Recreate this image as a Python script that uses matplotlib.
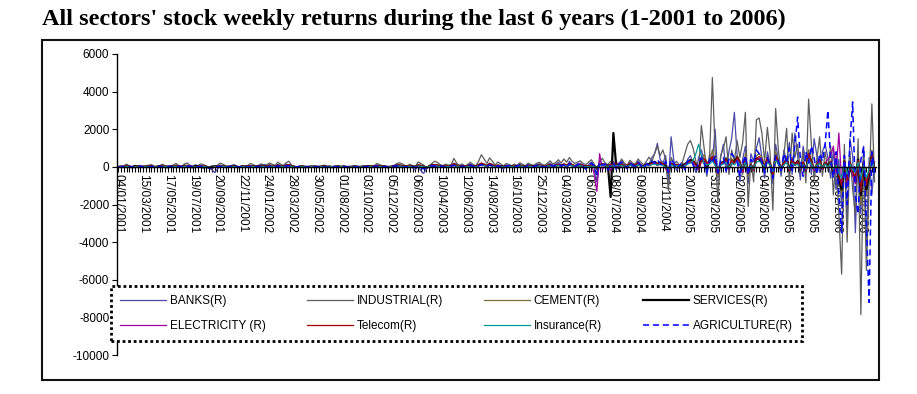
import numpy as np
import matplotlib
matplotlib.use("Agg")
import matplotlib.pyplot as plt
from matplotlib.patches import Rectangle

# ---------------- data (weekly returns, 276 weeks) ----------------
tick_labels = ["04/01/2001", "15/03/2001", "17/05/2001", "19/07/2001", "20/09/2001",
               "22/11/2001", "24/01/2002", "28/03/2002", "30/05/2002", "01/08/2002",
               "03/10/2002", "05/12/2002", "06/02/2003", "10/04/2003", "12/06/2003",
               "14/08/2003", "16/10/2003", "25/12/2003", "04/03/2004", "06/05/2004",
               "08/07/2004", "09/09/2004", "11/11/2004", "20/01/2005", "31/03/2005",
               "02/06/2005", "04/08/2005", "06/10/2005", "08/12/2005", "09/02/2006",
               "13/04/2006"]

banks = [
    -30, 20, 60, -10, 40, 10, -50, 30, 80, 20, -20, 10,
    40, -30, 20, 50, -10, 30, 70, 20, -40, 10, 60, 30,
    90, 40, -20, 30, 110, 60, 10, -40, 20, -80, -150, -300,
    -120, 40, 80, 20, -30, 60, 120, 50, 10, -20, 40, 30,
    60, 20, -10, 40, 90, 130, 60, 20, -30, 50, 110, 40,
    20, 150, 80, 30, -20, 10, 40, -10, 30, 20, -30, 10,
    20, 40, -20, 10, 30, -10, 20, 40, 10, -20, 30, 20,
    10, -30, 20, 40, 10, 30, -20, 20, 60, 30, 90, 40,
    -20, 10, 40, 20, 60, 120, 40, -30, 20, 50, 30, -60,
    -150, 20, -200, -350, -100, 60, 150, 80, 20, 110, 40, -20,
    30, 80, 200, 120, 40, 60, -40, 90, 150, 60, -80, 120,
    180, 90, 40, 200, 120, -60, 80, 40, -120, 60, 100, 30,
    -50, 80, 130, 40, -40, 150, 90, 20, 120, 160, 40, -30,
    110, 200, 60, 140, 250, 80, 150, -100, 300, 120, 40, 180,
    200, 60, -150, 120, 250, 100, -800, 350, 120, 200, -200, 150,
    300, -150, 200, 350, 100, -100, 250, 150, 50, 300, 100, -50,
    200, 150, 500, 700, 1250, 400, 200, 600, -800, 1600, 300, -200,
    100, 250, -100, 400, 600, 200, -300, 500, 900, 300, -500, 700,
    300, 2000, -600, 500, 1200, -300, 800, 1500, 2900, 600, -800, 400,
    1100, -900, 700, 300, 1000, 1550, 500, -600, 800, 200, -900, 1200,
    400, -500, 900, 300, 1300, -400, 1800, 600, -700, 1100, 300, 900,
    -400, 1500, 600, -300, 800, 1200, 500, -600, 900, -1200, 400, -2200,
    600, -2800, 1500, 600, -3500, 800, -2500, 1100, -4000, 500, -1500, 300,
]

industrial = [
    20, -40, 60, 150, 30, -20, 80, 40, -30, 50, 10, 90,
    120, 40, -20, 60, 140, 70, 30, -10, 110, 180, 60, 20,
    150, 210, 90, 40, -30, 70, 160, 120, 50, -60, -120, 30,
    80, 200, 140, 60, -20, 40, 90, 20, -30, 50, 30, 70,
    180, 120, 40, 90, 160, 70, 110, 210, 130, 80, 250, 140,
    70, 220, 300, 90, 40, -20, 30, 60, 20, -40, 10, 40,
    30, -20, 60, 90, 20, 40, -10, 30, 50, 20, 40, 10,
    -30, 20, 60, 10, -20, 30, 40, 70, 20, 60, 180, 120,
    60, 40, -40, 20, 50, 150, 220, 180, 90, 40, 140, 60,
    20, 260, 180, 100, -80, 60, 180, 300, 240, 120, 60, 150,
    90, 120, 450, 200, 80, 160, 40, 130, 250, 120, 60, 300,
    650, 420, 180, 480, 300, 90, 260, 160, 40, 180, 120, 60,
    150, 80, 220, 130, 60, 200, 120, 90, 180, 250, 140, 80,
    200, 320, 150, 230, 380, 200, 420, 250, 500, 300, 180, 260,
    320, 180, 120, 250, 380, 150, -150, 300, 450, 200, 120, 300,
    150, 250, 120, 420, 200, 80, 350, 200, 150, 420, 250, 100,
    300, 520, 280, 700, 1100, 600, 900, 400, -1250, 500, 150, 300,
    80, 200, 700, 1200, 1400, 1000, 300, -300, 2200, 1000, -200, 600,
    4750, 800, -1800, 600, 1000, 1600, -400, 900, 300, 1400, 500, 1300,
    2900, -2100, 400, -800, 2500, 2600, 1800, 300, 2100, 700, -2300, 3100,
    900, -300, 600, 2050, -900, 1800, 500, 1200, -300, 800, -850, 3600,
    1200, -700, 400, 1600, -500, 800, -200, 1100, -1500, 600, -2500, -5700,
    1200, -4000, 800, -1200, -2500, 1500, -7850, 900, -5500, -1000, 3350, -800,
]

cement = [
    10, -10, 20, 40, 0, -20, 30, 10, -10, 20, 0, 30,
    40, 10, -10, 20, 50, 20, 0, -20, 30, 60, 20, 0,
    50, 70, 30, 10, -20, 20, 60, 40, 10, -30, -50, 10,
    30, 70, 50, 20, -10, 10, 30, 0, -20, 20, 10, 30,
    60, 40, 10, 30, 60, 20, 40, 80, 50, 20, 90, 50,
    20, 80, 110, 30, 10, -10, 10, 20, 0, -20, 10, 20,
    10, -10, 20, 30, 10, 20, 0, 10, 20, 10, 20, 0,
    -10, 10, 20, 0, -10, 10, 20, 30, 10, 20, 60, 40,
    20, 10, -20, 10, 20, 50, 80, 60, 30, 10, 50, 20,
    10, 90, 60, 30, -30, 20, 60, 110, 80, 40, 20, 50,
    30, 40, 150, 70, 30, 50, 10, 40, 90, 40, 20, 100,
    200, 140, 60, 160, 100, 30, 90, 50, 10, 60, 40, 20,
    50, 30, 70, 40, 20, 70, 40, 30, 60, 80, 50, 30,
    70, 110, 50, 80, 130, 70, 140, 90, 170, 100, 60, 90,
    110, 60, 40, 30, 70, 50, -60, 100, 160, 80, 50, 120,
    70, 150, 100, 140, 50, 80, 170, 60, 120, 200, 80, 50,
    140, 100, 250, 300, 200, 280, 200, -100, -350, 200, 60, 120,
    40, -60, 120, 280, 400, 380, 150, -120, 450, 650, 250, 300,
    900, 250, -500, 200, 300, 500, -100, 450, 250, 600, 350, -400,
    700, -500, 150, -250, 600, 700, 500, 100, 550, 200, -600, 800,
    300, -100, 200, 550, -250, 500, 150, 350, -100, 250, -250, 900,
    350, -200, 150, 450, -150, 250, -50, 300, -400, 200, -700, -1500,
    350, -1100, 250, -350, -700, 450, -2000, 300, -1500, -300, 900, -250,
]

services = [
    0, 20, -10, 30, 10, -20, 40, 20, 0, -10, 30, 10,
    20, -10, 10, 40, 20, 0, -20, 30, 10, 50, 20, -10,
    60, 30, 10, -20, 40, 20, 0, -30, 10, -40, 20, 30,
    10, 50, 30, -10, 20, 10, 40, 0, -20, 30, 10, 20,
    40, 20, 10, 30, 60, 20, 40, 70, 30, 10, 80, 40,
    20, 60, 90, 30, 0, -20, 10, 20, -10, 0, 20, 10,
    10, -10, 20, 30, 0, 10, -20, 10, 20, 0, 10, -10,
    0, 10, 20, -10, 0, 20, 10, 30, 0, 20, 50, 30,
    10, 20, -20, 0, 20, 60, 80, 50, 20, 10, 40, 20,
    0, 80, 50, 20, -40, 20, 60, 90, 70, 30, 10, 40,
    20, 30, 120, 60, 20, 40, 0, 30, 70, 30, 10, 80,
    150, 100, 40, 120, 80, 20, 60, 40, 0, 50, 30, 10,
    40, 20, 60, 30, 10, 50, 30, 20, 40, 70, 30, 10,
    50, 80, 40, 60, 100, 50, 110, 60, 130, 80, 40, 60,
    80, 40, 20, 30, 60, 40, -50, 90, 120, 60, 80, -1600,
    1800, 100, -80, 120, 60, 20, 150, 50, -40, 160, 60, 20,
    100, 150, 200, 250, 100, 200, 150, 50, -200, 150, 60, 100,
    30, 60, 150, 250, 350, 300, 100, -100, 400, 250, -50, 300,
    500, 200, -300, 150, 250, 400, -100, 200, 300, 500, 150, -200,
    400, -300, 100, -150, 450, 400, 200, -100, 350, 150, -400, 500,
    200, -100, 150, 400, -200, 350, 100, 300, -150, 200, -200, 600,
    250, -150, 100, 300, -100, 200, 100, 250, -300, 150, -600, -1200,
    300, -900, 200, -300, -800, 400, -1500, 200, -1200, -400, 600, -200,
]

electricity = [
    -10, 20, 10, -20, 30, 0, -10, 20, 10, -20, 10, 0,
    20, 0, -20, 10, 30, 10, -10, 0, 20, 40, 10, -10,
    30, 40, 10, -10, -30, 10, 30, 20, 0, -20, -60, -20,
    10, 40, 20, 0, -20, 10, 20, -10, -20, 10, 0, 20,
    40, 20, 0, 20, 40, 10, 20, 50, 30, 10, 60, 30,
    10, 50, 70, 20, 0, -20, 10, 0, -10, -20, 0, 10,
    0, -20, 10, 20, -10, 10, -10, 0, 10, -10, 10, -10,
    -20, 0, 10, -10, -20, 0, 10, 20, 0, 10, 40, 20,
    0, 10, -30, 0, 10, 40, 60, 40, 10, 0, 30, 10,
    -20, 60, 30, -40, -80, 10, 40, 80, 60, 20, 0, 30,
    10, 30, 100, 50, 10, 30, -20, 20, 60, 20, -10, 70,
    120, 80, 20, 100, 60, -20, 40, 20, -40, 30, 20, -10,
    20, 10, 50, 20, -20, 40, 20, 0, 30, 60, 20, -20,
    40, 70, 20, 50, 90, 30, 100, 40, 150, 60, 20, 50,
    80, 120, -80, 60, 100, -350, -1300, 700, -150, 120, 40, -200,
    150, 60, -60, 100, 40, -80, 120, 30, -60, 140, 40, -30,
    80, 60, 150, 200, 100, 180, 100, -100, -300, 150, 50, 80,
    20, -80, 100, 200, 250, 220, 80, -150, 300, 400, 100, 250,
    500, 150, -350, 120, 200, 350, -150, 300, 150, 400, 200, -300,
    450, -350, 100, -200, 400, 450, 300, -50, 350, 100, -400, 500,
    200, -150, 150, 350, -200, 300, 100, 250, -150, 200, -200, 550,
    250, -200, 100, 300, -150, 200, 400, 600, 1100, -300, 1800, -800,
    300, -1000, 200, -400, -900, 300, -1200, 200, -900, -300, 500, -200,
]

telecom = [
    20, 0, 30, 50, 10, -10, 40, 20, 0, 30, 10, 40,
    50, 20, 0, 30, 60, 30, 10, -10, 40, 80, 30, 10,
    60, 90, 40, 20, -10, 30, 70, 50, 20, -20, -40, 20,
    40, 80, 60, 30, 0, 20, 40, 10, -10, 30, 20, 40,
    70, 50, 20, 40, 70, 30, 50, 90, 60, 30, 100, 60,
    30, 90, 120, 40, 20, 0, 20, 30, 10, -10, 10, 30,
    20, 0, 30, 40, 10, 20, 0, 20, 30, 10, 30, 10,
    0, 20, 30, 10, -10, 20, 30, 40, 20, 30, 80, 50,
    30, 20, -10, 20, 40, 70, 100, 80, 40, 20, 70, 30,
    10, 110, 80, 40, -20, 30, 80, 130, 100, 50, 30, 70,
    40, 60, 180, 90, 40, 70, 20, 60, 110, 50, 30, 130,
    200, 150, 70, 180, 120, 40, 100, 60, 20, 80, 50, 30,
    60, 40, 90, 60, 20, 80, 50, 40, 70, 100, 60, 30,
    80, 130, 60, 100, 150, 80, 160, 100, 200, 120, 70, 100,
    130, 70, 50, 40, 90, 60, -80, 120, 180, 100, 60, 140,
    80, 170, 120, 160, 60, 100, 190, 70, 130, 220, 100, 60,
    160, 120, 200, 250, 150, 220, 180, -50, -250, 200, 80, 140,
    60, -40, 150, 250, 300, 280, 120, -80, 350, 450, 200, 250,
    550, 200, -250, 150, 250, 400, -50, 350, 200, 500, 300, -200,
    500, -300, 150, -150, 450, 550, 400, 50, 450, 150, -450, 600,
    250, -50, 200, 450, -150, 400, 150, 300, -100, 250, -150, 700,
    300, -100, 150, 400, -100, 250, 0, 300, -250, 200, -500, -1000,
    300, -700, 250, -250, -500, 350, -1300, 250, -1000, -200, 700, -150,
]

insurance = [
    0, 10, -10, 20, 0, -10, 10, 0, -10, 10, 0, 20,
    20, 0, -10, 10, 30, 10, 0, -10, 20, 30, 10, 0,
    30, 40, 20, 0, -10, 10, 30, 20, 0, -20, -30, 0,
    20, 40, 30, 10, -10, 0, 20, 0, -10, 10, 0, 20,
    30, 20, 0, 20, 30, 10, 20, 40, 30, 10, 50, 30,
    10, 40, 60, 20, 0, -10, 0, 10, 0, -10, 0, 10,
    0, -10, 10, 20, 0, 10, 0, 10, 20, 0, 10, 0,
    -10, 0, 10, 0, -10, 10, 10, 20, 0, 10, 30, 20,
    10, 0, -20, 0, 10, 30, 50, 30, 10, 0, 30, 10,
    0, 50, 30, 10, -20, 10, 30, 60, 40, 20, 10, 30,
    20, 30, 90, 40, 20, 30, 0, 20, 50, 20, 10, 60,
    110, 70, 30, 90, 50, 10, 40, 30, 0, 40, 20, 10,
    30, 20, 40, 30, 10, 40, 20, 10, 30, 50, 30, 10,
    40, 60, 30, 50, 80, 40, 90, 50, 110, 60, 30, 50,
    60, 30, 20, 10, 40, 20, -40, 60, 90, 50, 30, 70,
    40, 90, 60, 80, 30, 50, 100, 40, 60, 110, 50, 30,
    80, 60, 120, 150, 100, 130, 90, -20, -150, 110, 40, 70,
    30, -20, 80, 150, 200, 350, 700, 1200, 600, 200, 100, 150,
    300, 100, -150, 100, 150, 250, -50, 200, 100, 300, 150, -100,
    250, -200, 80, -100, 250, 300, 200, 30, 250, 100, -250, 350,
    150, -50, 100, 250, -100, 200, 80, 150, -80, 120, -100, 400,
    150, -80, 100, 200, -50, 150, 0, 200, -150, 100, -300, -600,
    200, -400, 150, -150, -300, 250, -700, 150, -600, -100, 400, -100,
]

agriculture = [
    10, -20, 30, 0, -10, 20, 10, -30, 20, 10, 0, -10,
    20, 10, -10, 30, 0, -20, 10, 20, -10, 0, 30, 10,
    -10, 20, 40, 10, -20, 0, 30, 10, -10, -60, -40, 20,
    10, 30, 0, -20, 10, 20, 40, 0, -10, 20, 10, -20,
    30, 10, 0, 20, 40, 10, -10, 30, 20, 0, 50, 20,
    10, 40, 60, 20, -10, 0, 20, 10, -20, 10, 0, 20,
    -10, 10, 20, 0, -20, 10, 30, 0, 10, -10, 20, 0,
    10, 0, -20, 10, 20, 0, 10, 30, -10, 20, 40, 10,
    0, 20, -10, 10, 30, 50, 20, 0, -20, 10, 30, 10,
    -30, 20, -60, -100, -40, 20, 60, 40, 10, 50, 20, -10,
    20, 40, 80, 30, -20, 40, 10, 60, 90, 30, -40, 60,
    120, 60, 20, 100, 50, -30, 60, 20, -60, 40, 80, 20,
    -20, 60, 90, 30, -30, 80, 50, 10, 70, 110, 40, -20,
    60, 120, 40, 90, 150, 60, 100, -60, 180, 80, 20, 120,
    140, 40, -100, 80, 200, 60, -400, 250, 100, 150, -150, 100,
    200, -100, 150, 250, 80, -80, 200, 100, 40, 250, 80, -50,
    150, 100, 300, 200, 400, 150, 50, 300, -300, 400, 200, -100,
    80, 200, -150, 300, 400, 100, -200, 250, 500, 200, -300, 400,
    200, 600, -300, 300, 500, -200, 400, 700, 500, 300, -500, 200,
    600, -400, 400, 200, 900, 700, 300, -300, 500, 100, -600, 600,
    300, -200, 700, 200, 1000, -300, 1200, 2650, 400, -500, 800, 200,
    1100, 500, -400, 700, 300, 1200, 3000, 400, -600, 800, -1500, -3500,
    600, -2000, 1200, 3450, -1500, -2500, 400, 1060, -3000, -7200, 800, -400,
]

series_names = ["BANKS(R)", "INDUSTRIAL(R)", "CEMENT(R)", "SERVICES(R)",
                "ELECTRICITY (R)", "Telecom(R)", "Insurance(R)", "AGRICULTURE(R)"]
y_ticks = [-10000, -8000, -6000, -4000, -2000, 0, 2000, 4000, 6000]

# ---------------- drawing ----------------
plt.rcParams["font.family"] = ["Liberation Sans", "DejaVu Sans"]

W, H = 917, 394
fig = plt.figure(figsize=(W / 100, H / 100), dpi=100)
fig.patch.set_facecolor("white")

ax = fig.add_axes([117 / W, 1 - 355 / H, (876 - 117) / W, (355 - 54) / H])
ax.set_facecolor("none")

n = len(industrial)
x = np.arange(n)

styles = [
    (banks, dict(color="#4a4aa8", lw=0.9)),
    (industrial, dict(color="#5e5e5e", lw=0.9)),
    (cement, dict(color="#7d6e3a", lw=0.9)),
    (services, dict(color="#000000", lw=1.6)),
    (electricity, dict(color="#a000a0", lw=0.9)),
    (telecom, dict(color="#a00000", lw=0.9)),
    (insurance, dict(color="#009a9a", lw=0.9)),
    (agriculture, dict(color="#0000ff", lw=1.1, dashes=(4, 2.5))),
]
handles = []
for (vals, kw), name in zip(styles, series_names):
    h, = ax.plot(x, vals, label=name, **kw)
    handles.append(h)

ax.set_xlim(-0.5, n - 0.5)
ax.set_ylim(-10000, 6000)
ax.set_yticks(y_ticks)
ax.set_yticklabels([str(v) for v in y_ticks], fontsize=8.5)

ax.spines["top"].set_visible(False)
ax.spines["right"].set_visible(False)
ax.spines["bottom"].set_position(("data", 0))
ax.spines["left"].set_linewidth(1.0)
ax.spines["bottom"].set_linewidth(1.0)

ax.set_xticks(np.arange(0, n, 9))
ax.set_xticklabels(tick_labels, rotation=-90, fontsize=8.5, va="top", ha="center")
ax.set_xticks(np.arange(n), minor=True)
ax.tick_params(axis="x", which="both", direction="out", length=3.5, width=0.8, pad=1.5)
ax.tick_params(axis="y", direction="out", length=3.5, width=0.8, pad=2)

# legend: two rows of four, filled row by row (matplotlib fills by column)
order = [0, 4, 1, 5, 2, 6, 3, 7]
leg = ax.legend(
    [handles[i] for i in order], [series_names[i] for i in order],
    ncol=4,
    loc="upper left",
    bbox_to_anchor=(111 / W, 1 - 286 / H, (802 - 111) / W, 0.0),
    bbox_transform=fig.transFigure,
    mode="expand",
    borderaxespad=0.0,
    fontsize=8.5,
    handlelength=3.9,
    handletextpad=0.3,
    borderpad=0.8,
    labelspacing=1.05,
    fancybox=False,
    framealpha=1,
    facecolor="white",
    edgecolor="black",
)
fr = leg.get_frame()
fr.set_linestyle((0, (1, 1)))
fr.set_linewidth(2.0)

# outer chart frame
fig.patches.append(Rectangle((42 / W, 1 - 380 / H), (879 - 42) / W, (380 - 40) / H,
                             transform=fig.transFigure, fill=False,
                             edgecolor="#111111", linewidth=1.5))

fig.text(42 / W, 1 - 25 / H,
         "All sectors' stock weekly returns during the last 6 years (1-2001 to 2006)",
         fontsize=17.5, fontweight="bold", family=["Liberation Serif", "DejaVu Serif"],
         ha="left", va="baseline")

fig.savefig("out.png", dpi=100)
